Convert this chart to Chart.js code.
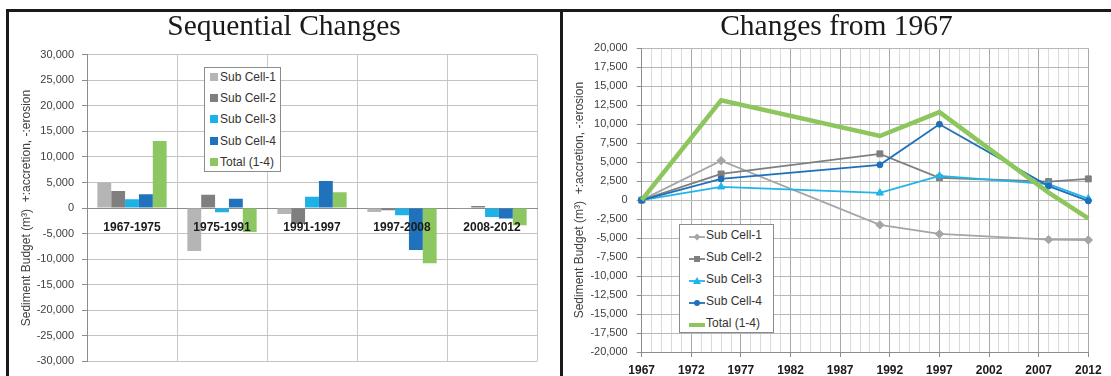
<!DOCTYPE html>
<html>
<head>
<meta charset="utf-8">
<title>Sediment Budget</title>
<script src="https://cdn.jsdelivr.net/npm/chart.js@4.4.1/dist/chart.umd.min.js"></script>
<style>
  html, body { margin: 0; padding: 0; background: #fff; }
  #stage { position: relative; width: 1111px; height: 376px; overflow: hidden; background: #fff;
           font-family: "Liberation Sans", Arial, sans-serif; }
  #stage canvas { position: absolute; top: 0; }
  .rule { position: absolute; background: #1a1a1a; z-index: 5; }
  .legend { position: absolute; background: #fff; border: 1px solid #8c8c8c; box-sizing: border-box; z-index: 4; }
  .legend .item { position: absolute; height: 14px; font-size: 12px; line-height: 14px; color: #333; white-space: nowrap; }
  .legend .swatch { position: absolute; }
</style>
</head>
<body>
<div id="stage">
  <canvas id="seq" width="568" height="376" style="left:0;width:568px;height:376px"></canvas>
  <canvas id="cum" width="551" height="376" style="left:560px;width:551px;height:376px"></canvas>
  <div class="rule" style="left:6px;top:9px;width:1105px;height:3px"></div>
  <div class="rule" style="left:6px;top:9px;width:3px;height:367px"></div>
  <div class="rule" style="left:560px;top:9px;width:3px;height:367px"></div>
  <div class="legend" id="seqLegend" style="left:204px;top:67px;width:77px;height:105px"></div>
  <div class="legend" id="cumLegend" style="left:679px;top:224px;width:95px;height:109px"></div>
</div>
<script>
// ---- data ----
const seriesNames = ['Sub Cell-1', 'Sub Cell-2', 'Sub Cell-3', 'Sub Cell-4', 'Total (1-4)'];

// sequential change per survey interval (m3)
const periods = ['1967-1975', '1975-1991', '1991-1997', '1997-2008', '2008-2012'];
const seqSub1  = [5000, -8400, -1150,  -750,   -60];
const seqSub2  = [3350,  2600, -3100,  -450,   400];
const seqSub3  = [1700,  -800,  2200, -1400, -1750];
const seqSub4  = [2700,  1800,  5300, -8200, -2050];
const seqTotal = [13100, -4700, 3100, -10800, -3350];

// cumulative change relative to 1967 (m3)
const years    = [1967, 1975, 1991, 1997, 2008, 2012];
const cumSub1  = [0, 5200, -3250, -4450, -5200, -5250];
const cumSub2  = [0, 3450,  6100,  2950,  2450,  2800];
const cumSub3  = [0, 1750,   950,  3200,  2100,   200];
const cumSub4  = [0, 2800,  4650, 10000,  1850,  -100];
const cumTotal = [0, 13150, 8450, 11600,  1000, -2400];

// labelled years on the cumulative chart
const yearTickLabels = [1967, 1972, 1977, 1982, 1987, 1992, 1997, 2002, 2007, 2012];

// ---- styling ----
const barColors  = ['#b5b5b5', '#7f7f7f', '#1db1e6', '#1f72bb', '#8dc761'];
const lineColors = ['#a5a5a5', '#7f7f7f', '#1fb4ea', '#1f70b8', '#8cc65c'];
const markers    = ['rectRot', 'rect', 'triangle', 'circle', false];
const yTitle = 'Sediment Budget (m\u00B3)  +:accretion, -:erosion';

Chart.defaults.font.family = '"Liberation Sans", Arial, sans-serif';
Chart.defaults.color = '#404040';

const fmt = v => Number(v).toLocaleString('en-US');
const titleFont = { family: '"Liberation Serif", "Times New Roman", serif', size: 29.5, weight: 'normal' };

// ---- left: sequential changes (grouped bars) ----
const seqValues = [seqSub1, seqSub2, seqSub3, seqSub4, seqTotal];
const seqChart = new Chart(document.getElementById('seq'), {
  type: 'bar',
  data: {
    labels: periods,
    datasets: seqValues.map((vals, i) => ({
      label: seriesNames[i],
      data: vals,
      backgroundColor: barColors[i],
      borderWidth: 0,
      categoryPercentage: 0.77,
      barPercentage: 1.0
    }))
  },
  options: {
    responsive: false,
    animation: false,
    devicePixelRatio: 1,
    layout: { padding: { left: 31, right: 31, top: 0, bottom: 11 } },
    plugins: {
      legend: { display: false },
      tooltip: { enabled: false },
      title: {
        display: true, text: 'Sequential Changes', color: '#1a1a1a',
        font: titleFont, padding: { top: 10, bottom: 9.3 }
      }
    },
    scales: {
      x: {
        position: { y: 0 },
        offset: true,
        grid: { offset: true, color: '#c8c8c8', drawTicks: false },
        border: { display: true, color: '#8c8c8c', width: 1 },
        ticks: { z: 1, padding: 12, color: '#1a1a1a', font: { size: 12, weight: 'bold' }, maxRotation: 0 }
      },
      y: {
        min: -30000, max: 30000,
        afterFit: s => { s.width = 56; },
        grid: {
          color: c => (c.tick && c.tick.value === 0 ? '#8c8c8c' : '#c3c3c3'),
          tickLength: 5, tickColor: '#8c8c8c'
        },
        border: { display: true, color: '#8c8c8c' },
        ticks: { stepSize: 5000, padding: 8, font: { size: 11 }, color: '#404040', callback: fmt },
        title: { display: true, text: yTitle, color: '#404040', font: { size: 12 }, padding: { top: -11.2, bottom: 0 } }
      }
    }
  }
});

// ---- right: changes from 1967 (lines) ----
const cumValues = [cumSub1, cumSub2, cumSub3, cumSub4, cumTotal];
const cumChart = new Chart(document.getElementById('cum'), {
  type: 'line',
  data: {
    datasets: cumValues.map((vals, i) => {
      const total = i === 4;
      return {
        label: seriesNames[i],
        data: years.map((yr, k) => ({ x: yr, y: vals[k] })),
        borderColor: lineColors[i],
        backgroundColor: lineColors[i],
        borderWidth: total ? 4.5 : 1.8,
        pointStyle: markers[i],
        pointRadius: total ? 0 : (i === 3 ? 3 : 4.2),
        pointBorderWidth: 1,
        pointBorderColor: lineColors[i],
        tension: 0,
        clip: false,
        order: 4 - i
      };
    })
  },
  options: {
    responsive: false,
    animation: false,
    devicePixelRatio: 1,
    layout: { padding: { left: 24.7, right: 22.7, top: 0, bottom: 0 } },
    plugins: {
      legend: { display: false },
      tooltip: { enabled: false },
      title: {
        display: true, text: 'Changes from 1967', color: '#1a1a1a',
        font: titleFont, padding: { top: 10, bottom: 2.9 }
      }
    },
    scales: {
      x: {
        type: 'linear', min: 1967, max: 2012,
        afterFit: s => { s.height = 24; },
        grid: {
          color: c => (yearTickLabels.includes(c.tick.value) ? '#a8a8a8' : '#dadada'),
          tickColor: c => (yearTickLabels.includes(c.tick.value) ? '#8c8c8c' : 'rgba(0,0,0,0)'),
          tickLength: 5
        },
        border: { display: true, color: '#8c8c8c' },
        ticks: {
          stepSize: 1, autoSkip: false, maxRotation: 0, padding: 6,
          color: '#1a1a1a', font: { size: 12, weight: 'bold' },
          callback: v => (yearTickLabels.includes(v) ? String(v) : '')
        }
      },
      y: {
        min: -20000, max: 20000,
        afterFit: s => { s.width = 57; },
        grid: { color: '#b7b7b7', tickLength: 5, tickColor: '#8c8c8c' },
        border: { display: true, color: '#8c8c8c' },
        ticks: { stepSize: 2500, padding: 9, font: { size: 11 }, color: '#404040', callback: fmt },
        title: { display: true, text: yTitle, color: '#404040', font: { size: 12 }, padding: { top: -11.9, bottom: 0 } }
      }
    }
  }
});

// ---- HTML legends built from the chart datasets ----
function seqLegend(chart, el) {
  chart.data.datasets.forEach((ds, i) => {
    const top = 2 + i * 21.2;
    const sw = document.createElement('div');
    sw.className = 'swatch';
    sw.style.cssText = `left:5px;top:${top + 3}px;width:8px;height:8px;background:${ds.backgroundColor}`;
    const tx = document.createElement('div');
    tx.className = 'item';
    tx.style.cssText = `left:15px;top:${top}px`;
    tx.textContent = ds.label;
    el.appendChild(sw); el.appendChild(tx);
  });
}

function markerSvg(style, color, lineWidth) {
  const cy = 6, cx = 8;
  let m = '';
  if (style === 'rectRot') m = `<polygon points="${cx},${cy - 3.5} ${cx + 3.5},${cy} ${cx},${cy + 3.5} ${cx - 3.5},${cy}" fill="${color}"/>`;
  else if (style === 'rect') m = `<rect x="${cx - 3}" y="${cy - 3}" width="6" height="6" fill="${color}"/>`;
  else if (style === 'triangle') m = `<polygon points="${cx},${cy - 4} ${cx + 4},${cy + 3} ${cx - 4},${cy + 3}" fill="${color}"/>`;
  else if (style === 'circle') m = `<circle cx="${cx}" cy="${cy}" r="3" fill="${color}"/>`;
  return `<svg width="16" height="12" viewBox="0 0 16 12"><line x1="0" y1="${cy}" x2="16" y2="${cy}" stroke="${color}" stroke-width="${lineWidth}"/>${m}</svg>`;
}

function cumLegend(chart, el) {
  chart.data.datasets.forEach((ds, i) => {
    const top = 3 + i * 22;
    const sw = document.createElement('div');
    sw.className = 'swatch';
    sw.style.cssText = `left:9px;top:${top + 1}px;width:16px;height:12px`;
    sw.innerHTML = markerSvg(ds.pointStyle, ds.borderColor, i === 4 ? 4 : 1.8);
    const tx = document.createElement('div');
    tx.className = 'item';
    tx.style.cssText = `left:26px;top:${top}px`;
    tx.textContent = ds.label;
    el.appendChild(sw); el.appendChild(tx);
  });
}

seqLegend(seqChart, document.getElementById('seqLegend'));
cumLegend(cumChart, document.getElementById('cumLegend'));
</script>
</body>
</html>
